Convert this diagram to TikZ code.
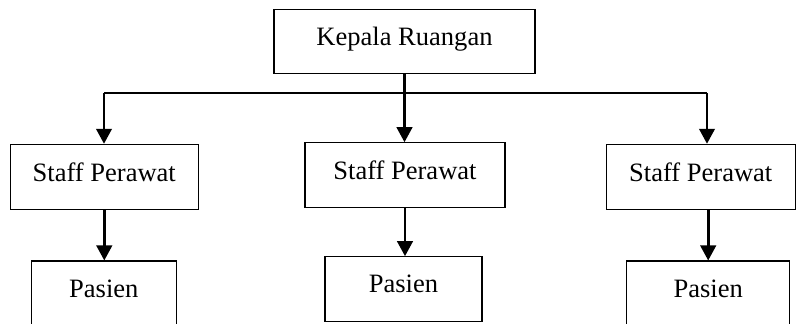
\documentclass[tikz,border=0pt]{standalone}
\usepackage{fontspec}
\setmainfont{Liberation Serif}
\usetikzlibrary{arrows.meta}
\begin{document}
\begin{tikzpicture}[x=0.02cm, y=-0.02cm,
    box/.style={draw, line width=0.6pt, minimum height=1.3cm, inner sep=0pt,
        text depth=0.2cm, font=\fontsize{15.1}{18}\selectfont},
    arr/.style={line width=1.5pt, -{Triangle[length=0.3cm,width=0.31cm]}},
    bus/.style={line width=0.7pt}]

    % Page frame, in pixels of the original picture
    \useasboundingbox (0,0) rectangle (796,324);

    % Top of the chart
    \node[box, minimum width=5.22cm, minimum height=1.29cm] (kepala) at (404.5,41.7) {Kepala Ruangan};

    % Second row
    \node[box, minimum width=3.77cm] (staff1) at (104.3,176.8) {Staff Perawat};
    \node[box, minimum width=4.0cm, minimum height=1.29cm] (staff2) at (405,175) {Staff Perawat};
    \node[box, minimum width=3.77cm] (staff3) at (700.8,176.8) {Staff Perawat};

    % Third row (partly cut off at the bottom)
    \node[box, minimum width=2.91cm] (pasien1) at (103.8,293.5) {Pasien};
    \node[box, minimum width=3.14cm] (pasien2) at (403.5,289.2) {Pasien};
    \node[box, minimum width=3.25cm] (pasien3) at (708.2,293.5) {Pasien};

    % Horizontal bus under the top box
    \coordinate (busL) at (104,93);
    \coordinate (busR) at (707,93);
    \draw[bus] (busL) -- (busR);

    % Arrows down to the staff
    \draw[arr] (kepala.south) -- (kepala.south |- staff2.north);
    \draw[arr] (busL) -- (busL |- staff1.north);
    \draw[arr] (busR) -- (busR |- staff3.north);

    % Arrows down to the patients
    \draw[arr] (staff1.south) -- (staff1.south |- pasien1.north);
    \draw[arr] (staff2.south) -- (staff2.south |- pasien2.north);
    \draw[arr] (pasien3.north |- staff3.south) -- (pasien3.north);

\end{tikzpicture}
\end{document}
